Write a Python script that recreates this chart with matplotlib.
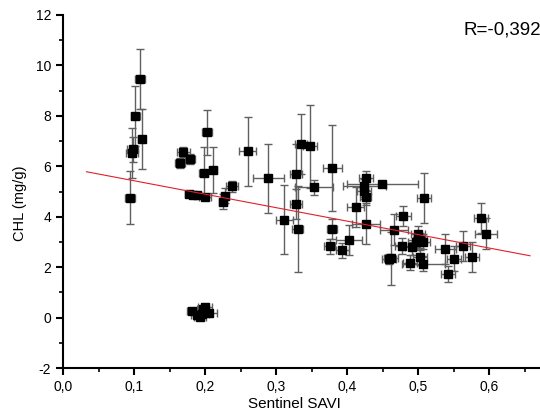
import matplotlib
matplotlib.use("Agg")
import matplotlib.pyplot as plt
from matplotlib.ticker import MultipleLocator, FuncFormatter
import numpy as np

plt.rcParams['font.family'] = ['Liberation Sans', 'DejaVu Sans']

savi = [0.094, 0.097, 0.098, 0.102, 0.109, 0.111, 0.164, 0.169, 0.179, 0.177,
        0.183, 0.188, 0.200, 0.198, 0.202, 0.211, 0.225, 0.228, 0.238, 0.260,
        0.289, 0.311, 0.328, 0.335, 0.348, 0.353, 0.328, 0.330, 0.379, 0.378,
        0.375, 0.393, 0.402, 0.412, 0.426, 0.424, 0.424, 0.426, 0.449, 0.426,
        0.459, 0.508, 0.479, 0.466, 0.461, 0.477, 0.488, 0.491, 0.496, 0.500,
        0.502, 0.506, 0.502, 0.507, 0.538, 0.550, 0.542, 0.563, 0.575, 0.588,
        0.595, 0.182, 0.188, 0.193, 0.197, 0.200, 0.205, 0.195]
chl = [4.75, 6.53, 6.67, 7.99, 9.46, 7.08, 6.14, 6.56, 6.28, 4.91,
       4.88, 4.87, 4.80, 5.75, 7.34, 5.85, 4.60, 4.83, 5.20, 6.59,
       5.52, 3.88, 5.70, 6.89, 6.79, 5.16, 4.50, 3.52, 5.92, 3.52,
       2.82, 2.67, 3.08, 4.39, 5.52, 5.20, 5.01, 4.77, 5.29, 3.73,
       2.34, 4.75, 4.03, 3.49, 2.35, 2.84, 2.18, 2.79, 3.00, 3.32,
       3.06, 3.00, 2.39, 2.14, 2.71, 2.34, 1.73, 2.84, 2.39, 3.94,
       3.33, 0.25, 0.10, 0.02, 0.35, 0.42, 0.20, 0.15]
savi_err = [0.007, 0.008, 0.008, 0.007, 0.007, 0.005, 0.007, 0.009, 0.007, 0.006,
            0.006, 0.006, 0.008, 0.006, 0.007, 0.006, 0.006, 0.006, 0.008, 0.012,
            0.022, 0.012, 0.008, 0.008, 0.010, 0.027, 0.008, 0.008, 0.013, 0.007,
            0.008, 0.009, 0.018, 0.012, 0.010, 0.030, 0.010, 0.008, 0.050, 0.020,
            0.010, 0.010, 0.010, 0.020, 0.010, 0.010, 0.010, 0.010, 0.010, 0.010,
            0.010, 0.010, 0.010, 0.030, 0.015, 0.010, 0.010, 0.010, 0.010, 0.010,
            0.015, 0.008, 0.008, 0.008, 0.008, 0.010, 0.012, 0.010]
chl_err = [1.05, 1.00, 0.50, 1.20, 1.20, 1.20, 0.20, 0.20, 0.20, 0.05,
           0.05, 0.05, 0.10, 1.00, 0.90, 0.92, 0.30, 0.30, 0.20, 1.37,
           1.37, 1.37, 1.20, 1.20, 1.65, 0.30, 0.60, 1.70, 1.70, 0.40,
           0.30, 0.30, 0.60, 0.80, 0.30, 0.30, 0.30, 0.30, 0.10, 0.80,
           0.20, 1.00, 0.40, 0.60, 1.05, 0.30, 0.30, 0.30, 0.30, 0.30,
           0.30, 0.30, 0.30, 0.30, 0.60, 0.50, 0.30, 0.60, 0.60, 0.60,
           0.60, 0.10, 0.10, 0.10, 0.10, 0.10, 0.10, 0.10]

fit_slope = -5.34
fit_intercept = 5.96
fit_range = [0.033, 0.657]
r_label = "R=-0,392"

fig = plt.figure(figsize=(5.4, 4.2), dpi=100)
ax = fig.add_axes([63/540, 52/420, 483.3/540, 353/420])

ax.errorbar(savi, chl, xerr=savi_err, yerr=chl_err, fmt='none',
            ecolor='#606060', elinewidth=1.0, capsize=3, capthick=1.0, zorder=2)
ax.plot(savi, chl, 's', color='black', markersize=5.3, zorder=3)

fx = np.array(fit_range)
ax.plot(fx, fit_intercept + fit_slope * fx, color='#e0202a', linewidth=0.8, zorder=4)

ax.set_xlim(0, 0.68)
ax.set_ylim(-2, 12)
ax.xaxis.set_major_locator(MultipleLocator(0.1))
ax.xaxis.set_minor_locator(MultipleLocator(0.05))
ax.yaxis.set_major_locator(MultipleLocator(2))
ax.yaxis.set_minor_locator(MultipleLocator(1))
ax.xaxis.set_major_formatter(FuncFormatter(lambda v, p: f"{v:.1f}".replace('.', ',').replace('-0,0', '0,0')))
ax.yaxis.set_major_formatter(FuncFormatter(lambda v, p: f"{v:.0f}"))

for s in ['top', 'right']:
    ax.spines[s].set_visible(False)
for s in ['left', 'bottom']:
    ax.spines[s].set_linewidth(1.5)
ax.tick_params(which='major', direction='out', length=5, width=1.5, labelsize=10)
ax.tick_params(which='minor', direction='out', length=3, width=1.2)

ax.set_xlabel("Sentinel SAVI", fontsize=11)
ax.set_ylabel("CHL (mg/g)", fontsize=10.5)
ax.xaxis.set_label_coords(0.478, -0.082)
ax.yaxis.set_label_coords(-0.0745, 0.467)

ax.text(0.563, 11.41, r_label, fontsize=13.5, ha='left', va='center')

fig.savefig("out.png", dpi=100)
